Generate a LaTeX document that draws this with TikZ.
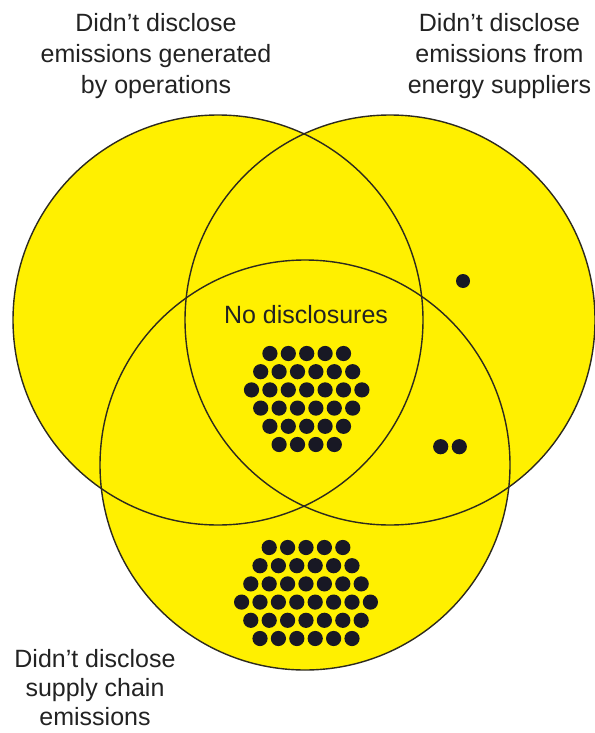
\documentclass[tikz,border=0pt]{standalone}
\usepackage{fontspec}
\setmainfont{Liberation Sans}
\definecolor{vennyellow}{RGB}{255,240,0}
\definecolor{rimline}{RGB}{45,42,30}
\definecolor{inktext}{RGB}{34,34,34}
\definecolor{dotink}{RGB}{24,24,36}
\begin{document}
\begin{tikzpicture}[x=1pt,y=-1pt,
  setcircle/.style={line width=1.4pt, draw=rimline},
  setlabel/.style={align=center, inner sep=0pt, text=inktext,
    font=\fontsize{25}{31}\selectfont},
  company/.style={fill=dotink}]
\useasboundingbox (0,0) rectangle (594,733);
% circle centres
\coordinate (opsC) at (218,320);
\coordinate (enC) at (390,320);
\coordinate (supC) at (305,465);
% yellow fills first, outlines on top
\fill[vennyellow] (opsC) circle (205);
\fill[vennyellow] (enC) circle (205);
\fill[vennyellow] (supC) circle (205);
\draw[setcircle] (opsC) circle (205);
\draw[setcircle] (enC) circle (205);
\draw[setcircle] (supC) circle (205);
% labels
\node[setlabel] (opsLabel) at (156,56) {Didn’t disclose\\emissions generated\\by operations};
\node[setlabel] (enLabel) at (499.5,56) {Didn’t disclose\\emissions from\\energy suppliers};
\node[setlabel, font=\fontsize{25}{29}\selectfont] (supLabel) at (95,688) {Didn’t disclose\\supply chain\\emissions};
\node[setlabel] (noneLabel) at (306,315) {No disclosures};
% companies in the triple overlap
\foreach \n/\y in {5/353.5,6/371.7,7/389.9,6/408.1,5/426.3,4/444.5}
  \foreach \i in {1,...,\n}
    \fill[company] ({306.7+(\i-(\n+1)/2)*18.4},\y) circle (7.6);
% companies only missing supply chain emissions
\foreach \n/\y in {5/547.5,6/565.7,7/583.9,8/602.1,7/620.3,6/638.5}
  \foreach \i in {1,...,\n}
    \fill[company] ({306+(\i-(\n+1)/2)*18.4},\y) circle (7.6);
% energy-only and energy+supply companies
\fill[company] (463,281) circle (7);
\fill[company] (440.7,446.7) circle (7.6);
\fill[company] (459.3,446.7) circle (7.6);
\end{tikzpicture}
\end{document}
